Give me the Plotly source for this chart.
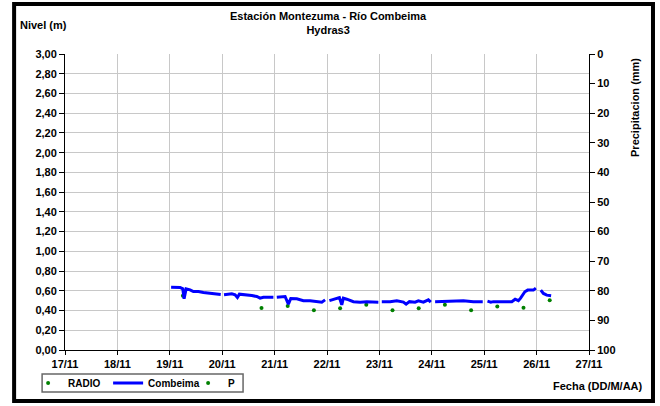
import plotly.graph_objects as go

# Combeima water level (m), gaps at midnight as in the source chart
level_times = [
    "2012-11-19 00:36", "2012-11-19 04:44", "2012-11-19 05:57", "2012-11-19 06:33",
    "2012-11-19 07:28", "2012-11-19 09:17", "2012-11-19 10:48", "2012-11-19 13:06",
    "2012-11-19 15:23", "2012-11-19 18:27", "2012-11-19 22:16", "2012-11-19 23:20",
    "2012-11-20 00:00",
    "2012-11-20 00:50", "2012-11-20 02:06", "2012-11-20 04:24", "2012-11-20 05:54",
    "2012-11-20 06:58", "2012-11-20 07:52", "2012-11-20 11:15", "2012-11-20 13:33",
    "2012-11-20 15:50", "2012-11-20 17:21", "2012-11-20 18:52", "2012-11-20 23:27",
    "2012-11-21 00:00",
    "2012-11-21 01:00", "2012-11-21 04:48", "2012-11-21 06:19", "2012-11-21 07:25",
    "2012-11-21 10:10", "2012-11-21 13:12", "2012-11-21 16:16", "2012-11-21 19:19",
    "2012-11-21 21:37", "2012-11-21 23:08",
    "2012-11-22 00:00",
    "2012-11-22 01:06", "2012-11-22 02:56", "2012-11-22 05:41", "2012-11-22 06:46",
    "2012-11-22 07:30", "2012-11-22 09:04", "2012-11-22 12:06", "2012-11-22 15:10",
    "2012-11-22 18:13", "2012-11-22 23:32",
    "2012-11-23 00:00",
    "2012-11-23 01:06", "2012-11-23 04:54", "2012-11-23 07:58", "2012-11-23 11:00",
    "2012-11-23 12:14", "2012-11-23 13:45", "2012-11-23 16:21", "2012-11-23 17:51",
    "2012-11-23 20:10", "2012-11-23 22:26", "2012-11-23 23:32",
    "2012-11-24 00:00",
    "2012-11-24 01:31", "2012-11-24 08:23", "2012-11-24 14:28", "2012-11-24 19:03",
    "2012-11-24 23:20",
    "2012-11-25 00:00",
    "2012-11-25 01:30", "2012-11-25 03:01", "2012-11-25 04:14", "2012-11-25 12:39",
    "2012-11-25 14:10", "2012-11-25 15:40", "2012-11-25 16:40", "2012-11-25 18:37",
    "2012-11-25 19:55", "2012-11-25 22:33", "2012-11-25 23:40",
    "2012-11-26 00:00",
    "2012-11-26 01:55", "2012-11-26 03:07", "2012-11-26 04:40", "2012-11-26 06:39",
]
level_values = [
    0.637, 0.634, 0.620, 0.520, 0.620, 0.610, 0.593, 0.593, 0.583, 0.576, 0.566, 0.562,
    None,
    0.560, 0.566, 0.570, 0.560, 0.532, 0.566, 0.560, 0.552, 0.542, 0.525, 0.535, 0.535,
    None,
    0.535, 0.542, 0.465, 0.522, 0.519, 0.500, 0.500, 0.490, 0.485, 0.508,
    None,
    0.500, 0.515, 0.532, 0.458, 0.525, 0.515, 0.490, 0.485, 0.488, 0.485,
    None,
    0.490, 0.490, 0.498, 0.485, 0.465, 0.490, 0.485, 0.498, 0.485, 0.508, 0.485,
    None,
    0.490, 0.498, 0.498, 0.490, 0.490,
    None,
    0.495, 0.485, 0.490, 0.490, 0.515, 0.500, 0.525, 0.590, 0.607, 0.607, 0.627,
    None,
    0.607, 0.573, 0.556, 0.550,
]

# RADIO readings (m), twice a day
radio_times = [
    "2012-11-19 06:00", "2012-11-20 18:00", "2012-11-21 06:00", "2012-11-21 18:00",
    "2012-11-22 06:00", "2012-11-22 18:00", "2012-11-23 06:00", "2012-11-23 18:00",
    "2012-11-24 06:00", "2012-11-24 18:00", "2012-11-25 06:00", "2012-11-25 18:00",
    "2012-11-26 06:00",
]
radio_values = [0.55, 0.426, 0.446, 0.404, 0.424, 0.458, 0.404, 0.424,
                0.458, 0.404, 0.44, 0.427, 0.505]

# precipitation (mm) - no readings in this period
precip_times = ["2012-11-19 00:00"]
precip_values = [None]

FONT = "Liberation Sans"
GREEN = "#008000"
BLUE = "#0000ff"

# plot area in pixels: x 65..589, y 54..350
def px(x):
    return (x - 64.9) / 524.1

def py(y):
    return (350 - y) / 296.0

fig = go.Figure()
fig.add_trace(go.Scatter(
    x=radio_times, y=radio_values, mode="markers", name="RADIO",
    marker=dict(color=GREEN, size=4),
))
fig.add_trace(go.Scatter(
    x=level_times, y=level_values, mode="lines", name="Combeima",
    line=dict(color=BLUE, width=3), connectgaps=False,
))
fig.add_trace(go.Scatter(
    x=precip_times, y=precip_values, mode="markers", name="P",
    marker=dict(color=GREEN, size=4), yaxis="y2",
))

bold = dict(family=FONT, size=11, color="black", weight="bold")

fig.update_layout(
    width=660, height=406,
    margin=dict(l=65, r=71, t=54, b=56, autoexpand=False),
    paper_bgcolor="white", plot_bgcolor="white",
    separators=",.",
    font=bold,
    showlegend=True,
    legend=dict(
        orientation="h", x=px(28), y=py(383), xanchor="left", yanchor="middle",
        borderwidth=0, bgcolor="rgba(255,255,255,0.01)",
        font=dict(family=FONT, size=10, color="black", weight="bold"),
        itemwidth=30, tracegroupgap=0,
        entrywidth=35, entrywidthmode="pixels",
    ),
    xaxis=dict(
        type="date", range=["2012-11-17", "2012-11-27"],
        tick0="2012-11-17", dtick=86400000, tickformat="%d/%m",
        showgrid=True, gridcolor="#c8c8c8", gridwidth=1,
        showline=True, linecolor="black", linewidth=1,
        ticks="outside", ticklen=4, tickcolor="black",
        tickfont=bold, zeroline=False,
    ),
    yaxis=dict(
        range=[0, 3], dtick=0.2, tickformat=".2f",
        showgrid=True, gridcolor="#c8c8c8", gridwidth=1,
        showline=True, linecolor="black", linewidth=1,
        ticks="outside", ticklen=5, tickcolor="black",
        tickfont=bold, zeroline=False,
    ),
    yaxis2=dict(
        range=[100, 0], dtick=10, overlaying="y", side="right", anchor="x",
        showgrid=False, showline=True, linecolor="black", linewidth=1,
        ticks="outside", ticklen=5, tickcolor="black",
        tickfont=bold, zeroline=False,
    ),
)

fig.add_annotation(
    text="Estación Montezuma - Río Combeima<br>Hydras3",
    xref="paper", yref="paper", x=px(328), y=py(23),
    xanchor="center", yanchor="middle", showarrow=False, font=bold,
)
fig.add_annotation(
    text="Nivel (m)", xref="paper", yref="paper", x=px(18), y=py(25),
    xanchor="left", yanchor="middle", showarrow=False, font=bold,
)
fig.add_annotation(
    text="Precipitacion (mm)", xref="paper", yref="paper", x=px(635), y=py(107),
    xanchor="center", yanchor="middle", textangle=-90, showarrow=False, font=bold,
)
fig.add_annotation(
    text="Fecha (DD/M/AA)", xref="paper", yref="paper", x=px(645), y=py(386),
    xanchor="right", yanchor="middle", showarrow=False, font=bold,
)

# legend box
fig.add_shape(
    type="rect", xref="paper", yref="paper",
    x0=px(42), x1=px(243), y0=py(392), y1=py(374),
    line=dict(color="#666666", width=1.5), layer="above",
)
# outer black frame
fig.add_shape(
    type="rect", xref="paper", yref="paper",
    x0=px(14), x1=px(653), y0=py(401), y1=py(4),
    line=dict(color="black", width=4), layer="above",
)

# page has a default 8px body margin; drop it so the figure sits at 0,0
fig.write_html(
    "out.html",
    config={"displayModeBar": False},
    post_script="document.body.style.margin='0px';",
)
